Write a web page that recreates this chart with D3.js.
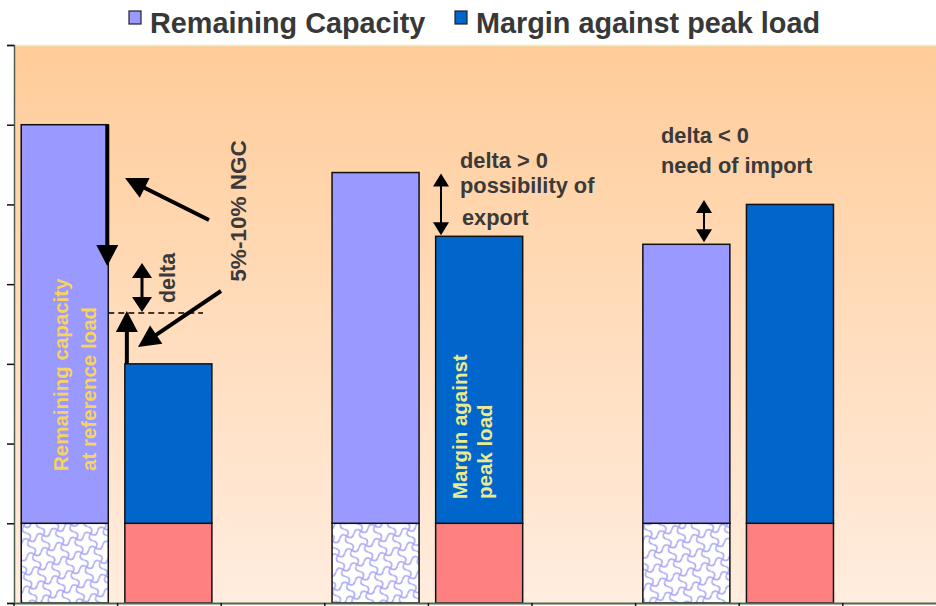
<!DOCTYPE html>
<html><head><meta charset="utf-8">
<script src="https://cdn.jsdelivr.net/npm/d3@7/dist/d3.min.js"></script>
<style>html,body{margin:0;padding:0;background:#fff;}svg{display:block;font-family:Arial,"Liberation Sans",sans-serif;}</style>
</head><body><svg id="c" width="936" height="606"></svg>
<script>
// ---- data ----
const categories = ["g1a","g1b","gap1","g2a","g2b","gap2","g3a","g3b","gap3"];
const baseValues = [1, 1, 0, 1, 1, 0, 1, 1, 0];          // hatched / pink base block
const remainingCapacity = [5, 0, 0, 4.4, 0, 0, 3.5, 0, 0]; // lavender
const marginPeak = [0, 2, 0, 0, 3.6, 0, 0, 4.0, 0];        // blue
const baseKind = ["hatch","pink",null,"hatch","pink",null,"hatch","pink",null];
const yTicks = [0,1,2,3,4,5,6,7];
const legendLabels = ["Remaining Capacity", "Margin against peak load"];

const svg = d3.select("#c");
const W = 936, H = 606;
const plot = {left:14, top:45, bottom:603, right:946.4};

const x = d3.scaleBand().domain(categories).range([plot.left, plot.right]).padding(0);
const y = d3.scaleLinear().domain([0,7]).range([plot.bottom, plot.top]);
const bw = x.bandwidth();
const barX = c => x(c) + bw*0.07;
const barW = bw*0.84;

const defs = svg.append("defs");
const grad = defs.append("linearGradient").attr("id","bg").attr("x1",0).attr("y1",0).attr("x2",0).attr("y2",1);
grad.append("stop").attr("offset","0%").attr("stop-color","#FFCC99");
grad.append("stop").attr("offset","100%").attr("stop-color","#FFEDDF");
const pat = defs.append("pattern").attr("id","hatch").attr("patternUnits","userSpaceOnUse")
  .attr("width",15).attr("height",15).attr("patternTransform","rotate(-20)");
pat.append("rect").attr("width",15).attr("height",15).attr("fill","#fff");
pat.append("path").attr("d","M0,7.5 Q3.75,2 7.5,7.5 T15,7.5 M7.5,0 Q13,3.75 7.5,7.5 T7.5,15")
  .attr("fill","none").attr("stroke","#a2a2f4").attr("stroke-width",1.5);

// background
svg.append("rect").attr("x",plot.left).attr("y",plot.top).attr("width",W-plot.left).attr("height",plot.bottom-plot.top).attr("fill","url(#bg)");
svg.append("line").attr("x1",plot.left).attr("x2",W).attr("y1",plot.top+0.5).attr("y2",plot.top+0.5).attr("stroke","#e6efc4").attr("stroke-width",1.5);

// bars
const g = svg.append("g");
categories.forEach((c,i)=>{
  if (baseValues[i] > 0) {
    g.append("rect").attr("x",barX(c)).attr("y",y(baseValues[i])).attr("width",barW).attr("height",y(0)-y(baseValues[i]))
      .attr("fill", baseKind[i]==="hatch" ? "url(#hatch)" : "#FF8080").attr("stroke","#111").attr("stroke-width",1.5);
  }
  if (remainingCapacity[i] > 0) {
    const t = baseValues[i] + remainingCapacity[i];
    g.append("rect").attr("x",barX(c)).attr("y",y(t)).attr("width",barW).attr("height",y(baseValues[i])-y(t))
      .attr("fill","#9999FF").attr("stroke","#111").attr("stroke-width",1.5);
  }
  if (marginPeak[i] > 0) {
    const t = baseValues[i] + marginPeak[i];
    g.append("rect").attr("x",barX(c)).attr("y",y(t)).attr("width",barW).attr("height",y(baseValues[i])-y(t))
      .attr("fill","#0066CC").attr("stroke","#111").attr("stroke-width",1.5);
  }
});

// axes
const yAxis = d3.axisLeft(y).tickValues(yTicks).tickSize(7).tickFormat("");
const ya = svg.append("g").attr("transform",`translate(${plot.left},0)`).call(yAxis);
ya.select(".domain").attr("stroke","#4f5f4f").attr("stroke-width",1.5);
ya.selectAll(".tick line").attr("stroke","#111").attr("stroke-width",1.5);
const xa = svg.append("g").attr("transform",`translate(0,${plot.bottom})`);
xa.append("line").attr("x1",plot.left).attr("x2",W).attr("y1",0.5).attr("y2",0.5).attr("stroke","#4f6b4f").attr("stroke-width",2);
xa.selectAll("line.tk").data(categories).enter().append("line").attr("class","tk")
  .attr("x1",c=>x(c)).attr("x2",c=>x(c)).attr("y1",0).attr("y2",4).attr("stroke","#111").attr("stroke-width",1.5);

// legend
const leg = svg.append("g");
const legX = [150, 476];
const legColors = ["#9999FF","#0066CC"];
legendLabels.forEach((l,i)=>{
  leg.append("rect").attr("x",legX[i]-21).attr("y",11).attr("width",12).attr("height",13)
    .attr("fill",legColors[i]).attr("stroke","#222").attr("stroke-width",1.2);
  leg.append("text").attr("x",legX[i]).attr("y",33).text(l)
    .attr("font-size",28.8).attr("font-weight","bold").attr("fill","#383838");
});

// annotation helpers
function arrowHead(px,py,angle,len,half,parent){
  const bx = px - len*Math.cos(angle), by = py - len*Math.sin(angle);
  const nx = -Math.sin(angle), ny = Math.cos(angle);
  parent.append("path").attr("d",`M${px},${py}L${bx+nx*half},${by+ny*half}L${bx-nx*half},${by-ny*half}Z`).attr("fill","#000");
}
function arrow(x1,y1,x2,y2,w,len,half){
  const a = Math.atan2(y2-y1,x2-x1);
  const ex = x2 - (len-2)*Math.cos(a), ey = y2 - (len-2)*Math.sin(a);
  ann.append("line").attr("x1",x1).attr("y1",y1).attr("x2",ex).attr("y2",ey).attr("stroke","#000").attr("stroke-width",w);
  arrowHead(x2,y2,a,len,half,ann);
}
function dblArrow(xx,y1,y2,w,len,half){
  ann.append("line").attr("x1",xx).attr("x2",xx).attr("y1",y1+len-2).attr("y2",y2-len+2).attr("stroke","#000").attr("stroke-width",w);
  arrowHead(xx,y1,-Math.PI/2,len,half,ann);
  arrowHead(xx,y2,Math.PI/2,len,half,ann);
}
const ann = svg.append("g");
const c0 = categories[0], c1 = categories[1], c3 = categories[3], c4 = categories[4], c6 = categories[6], c7 = categories[7];
const top0 = y(baseValues[0]+remainingCapacity[0]);
const top1 = y(baseValues[1]+marginPeak[1]);
const top3 = y(baseValues[3]+remainingCapacity[3]);
const top4 = y(baseValues[4]+marginPeak[4]);
const top6 = y(baseValues[6]+remainingCapacity[6]);

// group 1 arrows
const rEdge0 = barX(c0)+barW-1;
arrow(rEdge0, top0, rEdge0, 266, 4, 21, 11);
arrow(209, 220, 125, 178, 4, 22, 11);
arrow(221, 291, 138, 347, 4, 22, 11);
const dashY = 313;
ann.append("line").attr("x1",rEdge0+1).attr("x2",203).attr("y1",dashY).attr("y2",dashY)
  .attr("stroke","#000").attr("stroke-width",1.5).attr("stroke-dasharray","6,4");
arrow(barX(c1)+2, top1, barX(c1)+2, dashY-2, 4, 21, 11);
dblArrow(142, 263, 312, 3, 15, 10);
ann.append("text").attr("transform","translate(175,278) rotate(-90)").attr("text-anchor","middle")
  .attr("font-size",21.5).attr("font-weight","bold").attr("fill","#3a3a3a").text("delta");
ann.append("text").attr("transform","translate(246,211) rotate(-90)").attr("text-anchor","middle")
  .attr("font-size",22.5).attr("font-weight","bold").attr("fill","#3a3a3a").text("5%-10% NGC");

// group 2
dblArrow(441, top3+1, top4-1, 2, 13, 8);
[["delta > 0",460,168],["possibility of",460,193],["export",462,225]].forEach(d=>{
  ann.append("text").attr("x",d[1]).attr("y",d[2]).attr("font-size",21.8).attr("font-weight","bold").attr("fill","#3a3a3a").text(d[0]);
});

// group 3
dblArrow(704, 200, top6-2, 2, 13, 8);
[["delta < 0",661,143],["need of import",661,173]].forEach(d=>{
  ann.append("text").attr("x",d[1]).attr("y",d[2]).attr("font-size",21.8).attr("font-weight","bold").attr("fill","#3a3a3a").text(d[0]);
});

// text inside bars
function vText(lines, xs, yBottom, color){
  lines.forEach((l,i)=>{
    ann.append("text").attr("transform",`translate(${xs[i]},${yBottom}) rotate(-90)`)
      .attr("font-size",20.5).attr("font-weight","bold").attr("fill",color).text(l);
  });
}
vText(["Remaining capacity","at reference load"], [68, 96], 471, "#F7D35E");
vText(["Margin against","peak load"], [467, 492], 499, "#EDE98F");
</script></body></html>
